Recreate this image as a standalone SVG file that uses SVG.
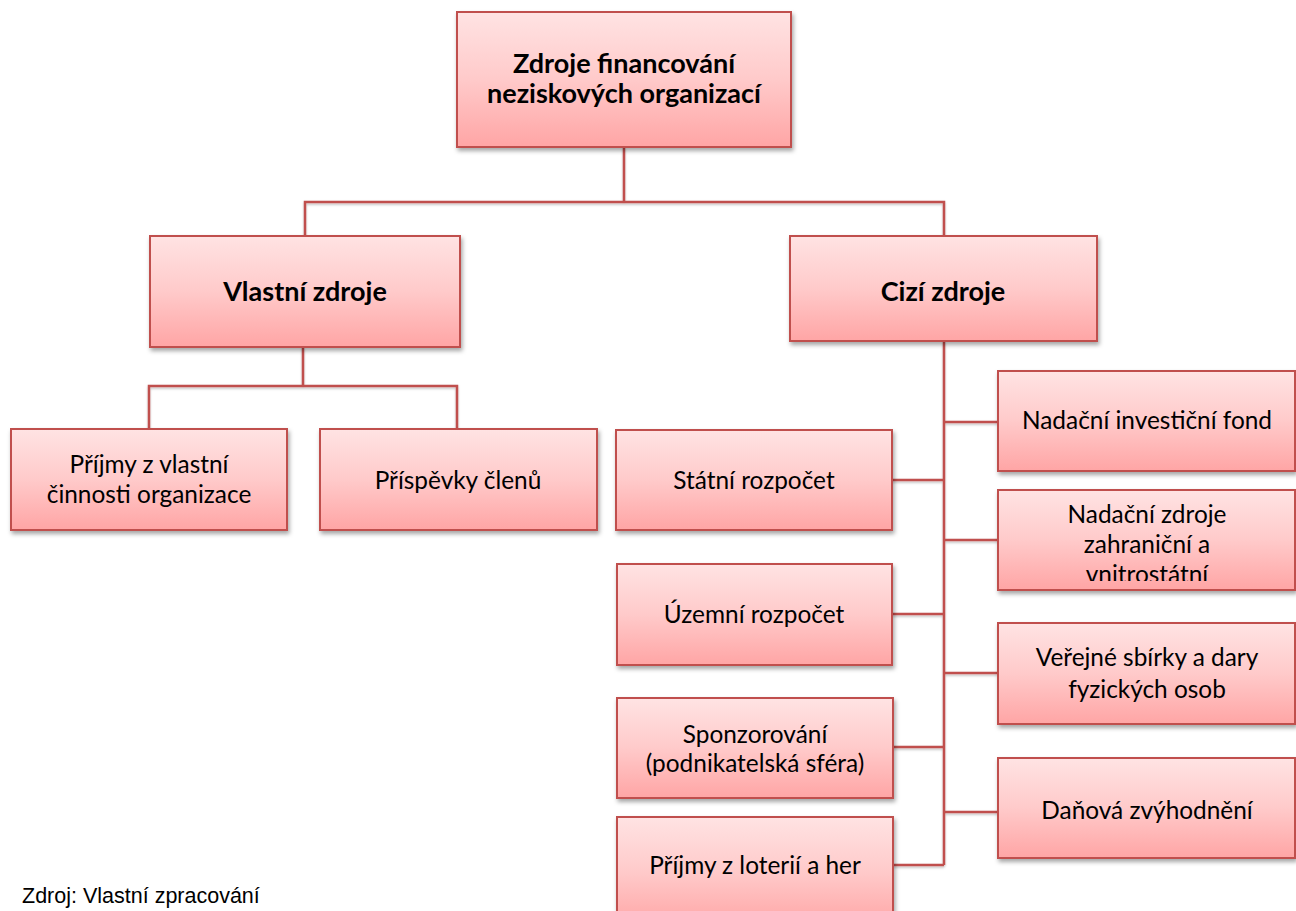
<svg xmlns="http://www.w3.org/2000/svg" width="1296" height="911" viewBox="0 0 1296 911">
<style>
.box{fill:url(#g);stroke:#C0504D;stroke-width:2;filter:url(#sh)}
.t{font-family:Lato,"Liberation Sans",sans-serif;font-size:24.4px;fill:#000;text-anchor:middle}
.b{font-family:Lato,"Liberation Sans",sans-serif;font-size:27px;font-weight:bold;fill:#000;text-anchor:middle}
.c{fill:none;stroke:#C0504D;stroke-width:2.5}
.f{font-family:"Liberation Sans",Arial,sans-serif;font-size:21.5px;fill:#000}
</style>
<defs>
<linearGradient id="g" x1="0" y1="0" x2="0" y2="1">
<stop offset="0" stop-color="#FFE3E3"/>
<stop offset="0.5" stop-color="#FFCACA"/>
<stop offset="1" stop-color="#FFA5A5"/>
</linearGradient>
<filter id="sh" x="-10%" y="-10%" width="125%" height="130%">
<feDropShadow dx="1.5" dy="3" stdDeviation="2" flood-color="#000" flood-opacity="0.35"/>
</filter>
<filter id="lsh" x="-5%" y="-5%" width="110%" height="110%">
<feDropShadow dx="0" dy="1.5" stdDeviation="1" flood-color="#000" flood-opacity="0.25"/>
</filter>
<clipPath id="clipNZ"><rect x="998" y="490" width="297" height="91"/></clipPath>
</defs>
<rect width="1296" height="911" fill="#fff"/>
<g id="connectors" filter="url(#lsh)">
<path class="c" d="M624 147V202M305 236V202H944V236"/>
<path class="c" d="M303 347V386M149 429V386H457V429"/>
<path class="c" d="M944 341V865"/>
<path class="c" d="M944 422H998M944 540H998M944 673H998M944 812H998"/>
<path class="c" d="M892 480H944M892 614H944M893 747H944M893 865H944"/>
</g>
<g id="n-root"><rect class="box" x="457" y="12" width="334" height="135"/>
<text class="b" x="624" y="73">Zdroje financování</text>
<text class="b" x="624" y="103">neziskových organizací</text></g>
<g id="n-vlastni"><rect class="box" x="150" y="236" width="310" height="111"/>
<text class="b" x="305" y="301">Vlastní zdroje</text></g>
<g id="n-cizi"><rect class="box" x="790" y="236" width="307" height="105"/>
<text class="b" x="943" y="301">Cizí zdroje</text></g>
<g id="n-prijmy-vl"><rect class="box" x="11" y="429" width="276" height="101"/>
<text class="t" x="149" y="473">Příjmy z vlastní</text>
<text class="t" x="149" y="503">činnosti organizace</text></g>
<g id="n-prispevky"><rect class="box" x="320" y="429" width="277" height="101"/>
<text class="t" x="458" y="489">Příspěvky členů</text></g>
<g id="n-statni"><rect class="box" x="616" y="430" width="276" height="100"/>
<text class="t" x="754" y="489">Státní rozpočet</text></g>
<g id="n-uzemni"><rect class="box" x="617" y="564" width="275" height="101"/>
<text class="t" x="754" y="623">Územní rozpočet</text></g>
<g id="n-sponzor"><rect class="box" x="617" y="698" width="276" height="100"/>
<text class="t" x="755" y="743">Sponzorování</text>
<text class="t" x="755" y="772">(podnikatelská sféra)</text></g>
<g id="n-loterie"><rect class="box" x="617" y="817" width="276" height="110"/>
<text class="t" x="755" y="874">Příjmy z loterií a her</text></g>
<g id="n-nif"><rect class="box" x="998" y="371" width="297" height="100"/>
<text class="t" x="1147" y="429">Nadační investiční fond</text></g>
<g id="n-nz"><rect class="box" x="998" y="490" width="297" height="100"/>
<g clip-path="url(#clipNZ)">
<text class="t" x="1147" y="523">Nadační zdroje</text>
<text class="t" x="1147" y="553">zahraniční a</text>
<text class="t" x="1147" y="583">vnitrostátní</text></g></g>
<g id="n-verejne"><rect class="box" x="998" y="623" width="297" height="101"/>
<text class="t" x="1147" y="666">Veřejné sbírky a dary</text>
<text class="t" x="1147" y="698">fyzických osob</text></g>
<g id="n-danova"><rect class="box" x="998" y="758" width="297" height="100"/>
<text class="t" x="1147" y="819">Daňová zvýhodnění</text></g>
<text class="f" x="22" y="903">Zdroj: Vlastní zpracování</text>
</svg>
